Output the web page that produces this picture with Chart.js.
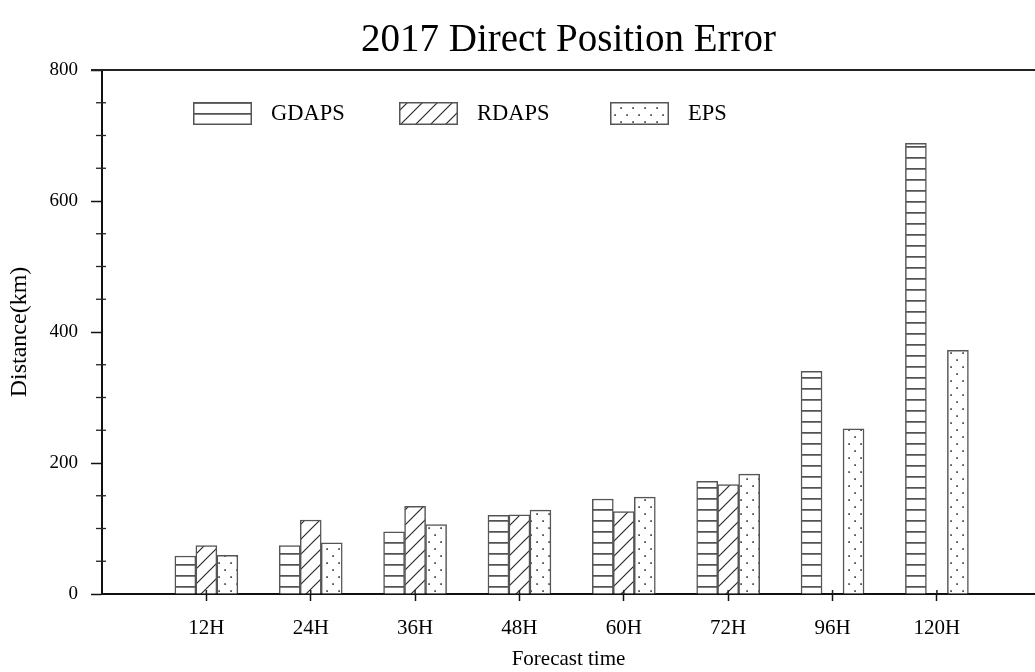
<!DOCTYPE html>
<html>
<head>
<meta charset="utf-8">
<script src="https://cdn.jsdelivr.net/npm/chart.js@4"></script>
<style>
html,body{margin:0;padding:0;background:#fff;overflow:hidden;}
#wrap{width:1035px;height:672px;}
</style>
</head>
<body>
<div id="wrap"><canvas id="c" width="1035" height="672"></canvas></div>
<script>
// ---- data ----
const categories = ['12H','24H','36H','48H','60H','72H','96H','120H'];
const gdaps = [58, 74, 95, 120, 145, 172, 340, 688];
const rdaps = [74, 113, 134, 121, 126, 167, null, null];
const eps   = [59, 78, 106, 128, 148, 183, 252, 372];
const seriesNames = ['GDAPS','RDAPS','EPS'];
const yTickLabels = [0, 200, 400, 600, 800];

const FONT = '"Liberation Serif", "DejaVu Serif", serif';

function makePattern(kind){
  const c = document.createElement('canvas');
  let w, h;
  if(kind==='h'){ w=8; h=11; }
  else if(kind==='d'){ w=15; h=15; }
  else { w=12; h=14; }
  c.width=w; c.height=h;
  const g=c.getContext('2d');
  g.fillStyle='#fff'; g.fillRect(0,0,w,h);
  g.strokeStyle='#2a2a2a'; g.fillStyle='#2a2a2a';
  if(kind==='h'){
    g.fillRect(0,3.2,w,1.4);
  } else if(kind==='d'){
    g.lineWidth=1.2;
    g.beginPath();
    g.moveTo(-2,h+2); g.lineTo(w+2,-2);
    g.moveTo(-2-w,h+2); g.lineTo(2,-2);
    g.moveTo(w-2,h+2); g.lineTo(2*w+2,-2);
    g.stroke();
  } else {
    g.fillRect(2.3,2.3,1.6,1.6);
    g.fillRect(8.3,9.3,1.6,1.6);
  }
  const ctx=document.getElementById('c').getContext('2d');
  return ctx.createPattern(c,'repeat');
}

const patterns = [makePattern('h'), makePattern('d'), makePattern('p')];
const seriesValues = [gdaps, rdaps, eps];

const datasets = seriesNames.map((name,k)=>({
  label: name,
  data: categories.map((c,i)=>({x:i+1, y:seriesValues[k][i]})),
  backgroundColor: patterns[k],
  borderColor: '#555',
  borderWidth: 1.5,
  barThickness: 21,
  borderSkipped: 'bottom'
}));

const legendPlugin = {
  id:'patLegend',
  afterDraw(chart){
    const ctx=chart.ctx;
    const a=chart.chartArea;
    const xs=[a.left+91, a.left+297, a.left+508];
    const y=a.top+32, bw=59, bh=23;
    ctx.save();
    chart.data.datasets.forEach((ds,k)=>{
      ctx.fillStyle=ds.backgroundColor;
      ctx.fillRect(xs[k],y,bw,bh);
      ctx.strokeStyle='#555'; ctx.lineWidth=1.5;
      ctx.strokeRect(xs[k]+0.75,y+0.75,bw-1.5,bh-1.5);
      ctx.fillStyle='#000';
      ctx.font='22.5px '+FONT;
      ctx.textBaseline='middle';
      ctx.textAlign='left';
      ctx.fillText(ds.label, xs[k]+78, y+bh/2+1);
    });
    ctx.restore();
  }
};

const framePlugin = {
  id:'frame',
  afterDraw(chart){
    const ctx=chart.ctx, a=chart.chartArea, ys=chart.scales.y, xs=chart.scales.x;
    ctx.save();
    ctx.strokeStyle='#222'; ctx.lineWidth=2;
    ctx.beginPath(); ctx.moveTo(a.left-11,a.top); ctx.lineTo(a.right,a.top); ctx.stroke();
    ctx.lineWidth=1.3; ctx.strokeStyle='#222';
    ys.ticks.forEach(t=>{
      if(t.value%200!==0){
        const py=ys.getPixelForValue(t.value);
        ctx.beginPath(); ctx.moveTo(a.left-6,py); ctx.lineTo(a.left+4,py); ctx.stroke();
      }
    });
    ctx.lineWidth=1.5;
    xs.ticks.forEach(t=>{
      const px=xs.getPixelForValue(t.value);
      ctx.beginPath(); ctx.moveTo(px,a.bottom-4); ctx.lineTo(px,a.bottom); ctx.stroke();
    });
    ctx.restore();
  }
};

new Chart(document.getElementById('c'), {
  type:'bar',
  data:{ datasets },
  plugins:[legendPlugin, framePlugin],
  options:{
    responsive:false,
    animation:false,
    events:[],
    layout:{padding:{left:0,right:0,top:0,bottom:0}},
    plugins:{
      legend:{display:false},
      tooltip:{enabled:false},
      title:{
        display:true,
        text:'2017 Direct Position Error',
        fullSize:false,
        color:'#000',
        font:{family:FONT,size:39,weight:'normal',lineHeight:1.2},
        padding:{top:17,bottom:6.2}
      }
    },
    scales:{
      x:{
        type:'linear',
        offset:false,
        min:0,
        max:8.94,
        afterBuildTicks(s){ s.ticks = categories.map((c,i)=>({value:i+1})); },
        afterFit(s){ s.height = 78; },
        ticks:{
          autoSkip:false,
          maxRotation:0,
          padding:15,
          color:'#000',
          font:{family:FONT,size:21},
          callback:(v)=>categories[v-1]
        },
        grid:{display:true,drawOnChartArea:false,drawTicks:true,tickLength:7,tickColor:'#111',tickWidth:1.5,offset:false},
        border:{display:true,color:'#111',width:2},
        title:{display:true,text:'Forecast time',color:'#000',font:{family:FONT,size:21},padding:{top:0,bottom:0}}
      },
      y:{
        min:0,max:800,
        afterFit(s){ s.width = 102; },
        ticks:{
          stepSize:50,
          autoSkip:false,
          padding:13,
          color:'#000',
          font:{family:FONT,size:19},
          callback:(v)=> yTickLabels.includes(v) ? String(v) : ''
        },
        grid:{display:true,drawOnChartArea:false,drawTicks:true,tickLength:11,
          tickColor:(c)=> (c.tick && c.tick.value%200===0) ? '#111' : 'rgba(0,0,0,0)',
          tickWidth:1.5},
        border:{display:true,color:'#111',width:2},
        title:{display:true,text:'Distance(km)',color:'#000',font:{family:FONT,size:24},padding:{top:5,bottom:0}}
      }
    }
  }
});
</script>
</body>
</html>
